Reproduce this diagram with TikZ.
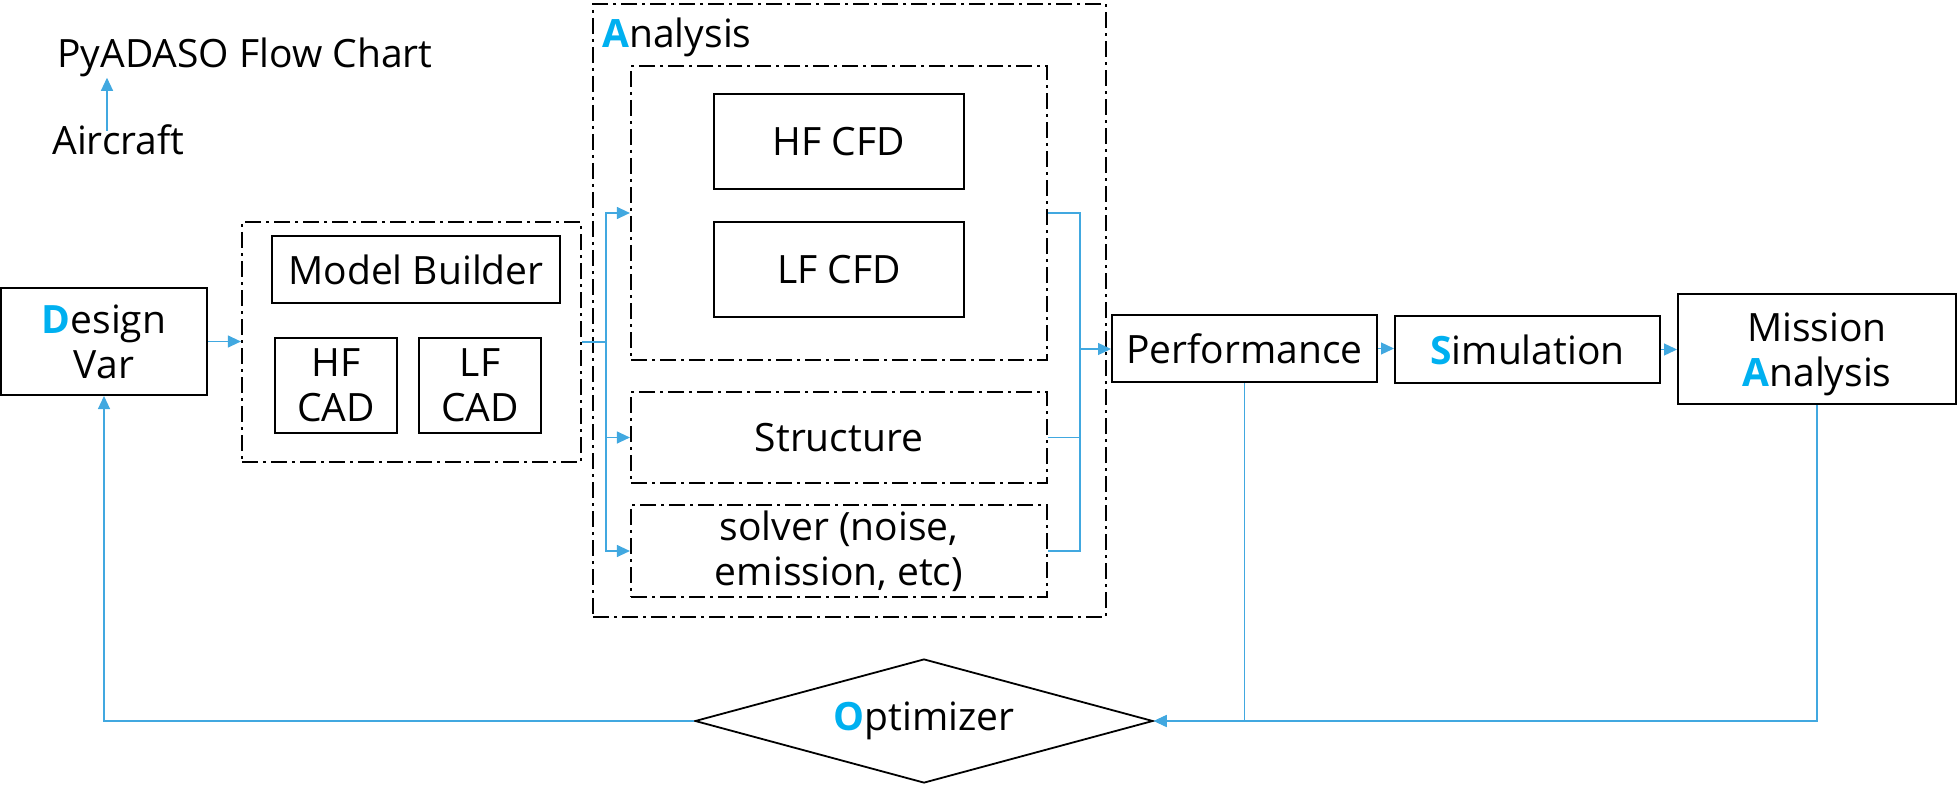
\documentclass[tikz,border=0pt]{standalone}
\usepackage{fontspec}
\setmainfont{Open Sans}
\usetikzlibrary{arrows.meta,shapes.geometric,calc}
\definecolor{hl}{HTML}{00B0F0}
\definecolor{lb}{HTML}{41A8E0}
\newcommand{\hlL}[1]{\textcolor{hl}{\textbf{#1}}}
\begin{document}
\begin{tikzpicture}[x=0.5pt,y=-0.5pt,
  every node/.style={font=\fontsize{19.5}{22.5}\selectfont},
  box/.style={draw, line width=1pt, inner sep=0pt, align=center},
  grp/.style={draw, line width=1.1pt, dash pattern=on 8pt off 2.5pt on 1.5pt off 2.5pt, inner sep=0pt, align=center},
  ln/.style={draw=lb, line width=0.6pt},
  arr/.style={draw=lb, line width=0.6pt, -{Triangle[length=6.5pt,width=6pt,fill=lb]}},
  txt/.style={inner sep=0pt, anchor=base west}
]
\useasboundingbox (0,0) rectangle (1957,786);

% top-left texts
\node[txt] (title) at (57,68) {PyADASO Flow Chart};
\node[txt] (aircraft) at (52,155) {Aircraft};
\draw[arr] ([xshift=27.5pt,yshift=-3pt]aircraft.north west) coordinate (a0) -- (a0 |- title.south);

% design variables
\node[box, minimum width=103pt, minimum height=53.5pt] (dv) at (104,341.5) {\hlL{D}esign\\Var};

% model builder group
\node[grp, minimum width=169.5pt, minimum height=120pt] (mbg) at (411.5,342) {};
\node[box, minimum width=144pt, minimum height=33.5pt] (mb) at (416,269.5) {Model Builder};
\node[box, minimum width=61pt, minimum height=47.5pt] (hfcad) at (336,385.5) {HF\\CAD};
\node[box, minimum width=61pt, minimum height=47.5pt] (lfcad) at (480,385.5) {LF\\CAD};

% analysis group
\node[grp, minimum width=256.5pt, minimum height=306.5pt] (ana) at (849.5,310.5) {};
\node[txt] (analabel) at (602,48) {\hlL{A}nalysis};
\node[grp, minimum width=208pt, minimum height=147pt] (aero) at (839,213) {};
\node[box, minimum width=125pt, minimum height=47.5pt] (hfcfd) at (839,141.5) {HF CFD};
\node[box, minimum width=125pt, minimum height=47.5pt] (lfcfd) at (839,269.5) {LF CFD};
\node[grp, minimum width=208pt, minimum height=45.5pt] (struct) at (839,437.5) {Structure};
\node[grp, minimum width=208pt, minimum height=46pt] (solver) at (839,551) {solver (noise,\\emission, etc)};

% right chain
\node[box, minimum width=132.5pt, minimum height=33.5pt] (perf) at (1244.5,348.5) {Performance};
\node[box, minimum width=132.5pt, minimum height=33.5pt] (sim) at (1527.5,349.5) {\hlL{S}imulation};
\node[box, minimum width=139pt, minimum height=55pt] (mission) at (1817,349) {};
\node[inner sep=0pt, align=center] (missiontext) at (1817,354) {Mission\\\hlL{A}nalysis};

% optimizer
\node[draw, line width=0.9pt, diamond, aspect=3.7, inner sep=0pt, minimum width=229pt, minimum height=62pt] (opt) at (924,721) {\hlL{O}ptimizer};

% connectors
\draw[arr] (dv.east) -- (dv.east -| mbg.west);
\coordinate (bx) at (606,342);
\draw[ln] (mbg.east) -- (bx);
\draw[arr] (bx) |- (aero.west);
\draw[arr] (bx) |- (struct.west);
\draw[arr] (bx) |- (solver.west);

\coordinate (mx) at (1080,349);
\draw[ln] (aero.east) -| (mx);
\draw[ln] (struct.east) -| (mx);
\draw[ln] (solver.east) -| (mx);
\draw[arr] (mx) -- (mx -| perf.west);

\draw[arr] (perf.east) -- (perf.east -| sim.west);
\draw[arr] (sim.east) -- (sim.east -| mission.west);

\draw[arr] (mission.south) |- (opt.east);
\draw[arr] (perf.south) |- (opt.east);
\draw[arr] (opt.west) -| (dv.south);
\end{tikzpicture}
\end{document}
